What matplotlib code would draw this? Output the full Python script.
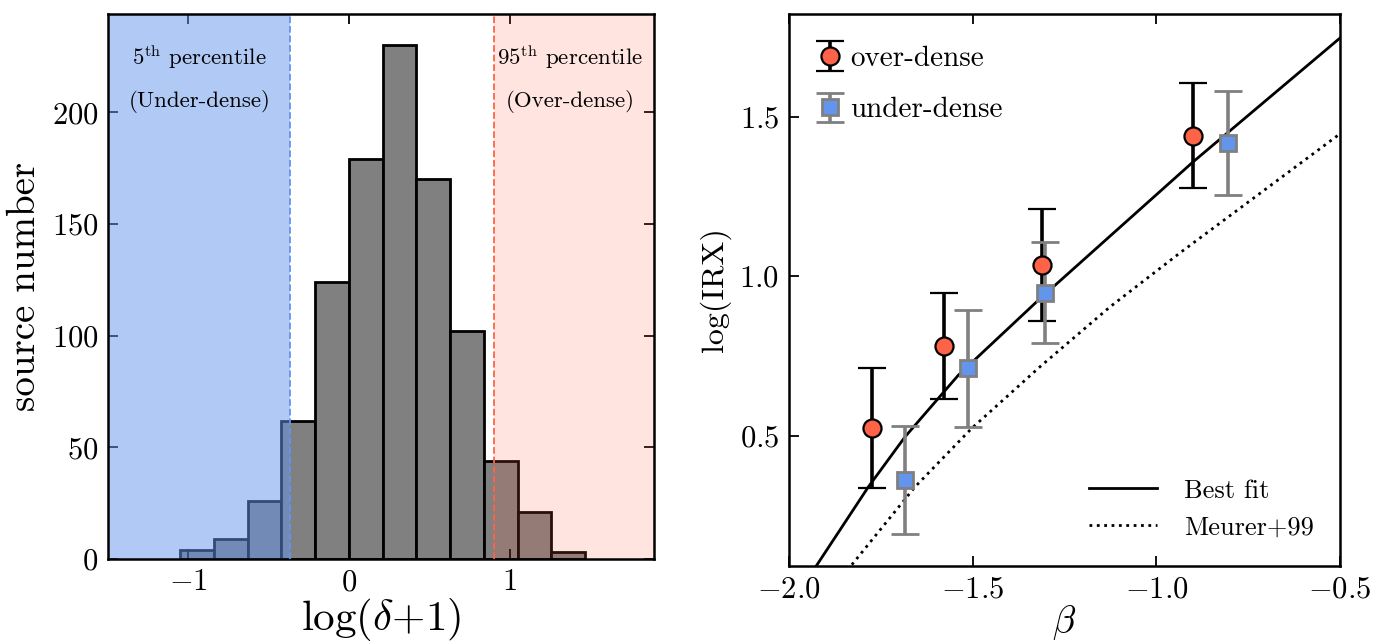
import matplotlib
matplotlib.use("Agg")
import matplotlib.pyplot as plt

plt.rcParams['font.family'] = ['cmr10', 'DejaVu Serif']
plt.rcParams['mathtext.fontset'] = 'cm'
plt.rcParams['axes.formatter.use_mathtext'] = True
plt.rcParams['axes.unicode_minus'] = True

# histogram of log(delta+1)
bin_edges = [-1.05, -0.84, -0.63, -0.42, -0.21, 0.0, 0.21, 0.42, 0.63,
             0.84, 1.05, 1.26, 1.47]
counts = [4, 9, 26, 62, 124, 179, 230, 170, 102, 44, 21, 3]
p5 = -0.368
p95 = 0.901

# IRX-beta points
beta_over = [-1.775, -1.577, -1.312, -0.899]
irx_over = [0.525, 0.781, 1.035, 1.440]
err_over = [0.188, 0.167, 0.174, 0.165]

beta_under = [-1.684, -1.513, -1.303, -0.804]
irx_under = [0.361, 0.711, 0.948, 1.417]
err_under = [0.169, 0.183, 0.158, 0.163]

# curves
fit_beta = [-1.926, -1.784, -1.684, -1.539, -1.321, -0.899, -0.5]
fit_irx = [0.092, 0.340, 0.497, 0.690, 0.925, 1.359, 1.746]
meurer_beta = [-1.829, -1.657, -1.503, -1.317, -1.126, -0.931, -0.5]
meurer_irx = [0.096, 0.340, 0.523, 0.716, 0.904, 1.077, 1.446]

fig = plt.figure(figsize=(13.86, 6.41), dpi=100)
ax1 = fig.add_axes([0.0779, 0.128, 0.394, 0.850])
ax2 = fig.add_axes([0.5693, 0.117, 0.3975, 0.861])

# ---- left panel ----
widths = [bin_edges[i + 1] - bin_edges[i] for i in range(len(counts))]
ax1.bar(bin_edges[:-1], counts, width=widths, align='edge', color='gray',
        edgecolor='black', linewidth=2.0, zorder=1)
ax1.axvspan(-1.5, p5, color='cornflowerblue', alpha=0.5, lw=0, zorder=2)
ax1.axvspan(p95, 1.9, color='tomato', alpha=0.17, lw=0, zorder=2)
ax1.axvline(p5, color='cornflowerblue', ls='--', lw=1.3, zorder=3)
ax1.axvline(p95, color='tomato', ls='--', lw=1.3, zorder=3)

ax1.text(-0.93, 225, r'5$^{\mathrm{th}}$ percentile', ha='center',
         va='center', fontsize=16.5, zorder=5)
ax1.text(-0.93, 205, '(Under-dense)', ha='center', va='center',
         fontsize=16.5, zorder=5)
ax1.text(1.38, 225, r'95$^{\mathrm{th}}$ percentile', ha='center',
         va='center', fontsize=16.5, zorder=5)
ax1.text(1.38, 205, '(Over-dense)', ha='center', va='center',
         fontsize=16.5, zorder=5)

ax1.set_xlim(-1.5, 1.9)
ax1.set_ylim(0, 244)
ax1.set_xticks([-1, 0, 1])
ax1.set_yticks([0, 50, 100, 150, 200])
ax1.set_xlabel(r'$\log(\delta{+}1)$', fontsize=31, labelpad=0)
ax1.set_ylabel('source number', fontsize=28, labelpad=6)
ax1.tick_params(direction='in', top=True, right=True, length=7, width=1.3,
                labelsize=22, pad=7)

# ---- right panel ----
ax2.errorbar(beta_over, irx_over, yerr=err_over, fmt='o', color='black',
             mfc='tomato', mec='black', ms=13, mew=1.6, elinewidth=2.6,
             capsize=10, capthick=2.6, label='over-dense', zorder=4)
ax2.errorbar(beta_under, irx_under, yerr=err_under, fmt='s', color='gray',
             mfc='cornflowerblue', mec='gray', ms=12, mew=2.0,
             elinewidth=2.6, capsize=10, capthick=2.6, label='under-dense',
             zorder=4)
l1, = ax2.plot(fit_beta, fit_irx, color='black', lw=2.0, label='Best fit')
l2, = ax2.plot(meurer_beta, meurer_irx, color='black', lw=2.0, ls=':',
               label='Meurer+99')

h, lab = ax2.get_legend_handles_labels()
leg1 = ax2.legend(h[2:], lab[2:], loc='upper left',
                  bbox_to_anchor=(0.0, 0.99), frameon=False,
                  fontsize=21, handlelength=1.0, handletextpad=0.2,
                  borderaxespad=0.5, labelspacing=0.85)
ax2.add_artist(leg1)
ax2.legend([l1, l2], ['Best fit', 'Meurer+99'], loc='lower right',
           frameon=False, fontsize=19, handlelength=2.6, handletextpad=1.0,
           borderaxespad=0.6, labelspacing=0.5)

ax2.set_xlim(-2.0, -0.5)
ax2.set_ylim(0.092, 1.821)
ax2.set_xticks([-2.0, -1.5, -1.0, -0.5])
ax2.set_yticks([0.5, 1.0, 1.5])
ax2.set_xlabel(r'$\beta$', fontsize=27, labelpad=0)
ax2.set_ylabel('log(IRX)', fontsize=23, labelpad=6)
ax2.tick_params(direction='in', top=True, right=False, length=7, width=1.3,
                labelsize=22, pad=7)

for ax in (ax1, ax2):
    for s in ax.spines.values():
        s.set_linewidth(1.8)

fig.savefig('out.png', dpi=100)
